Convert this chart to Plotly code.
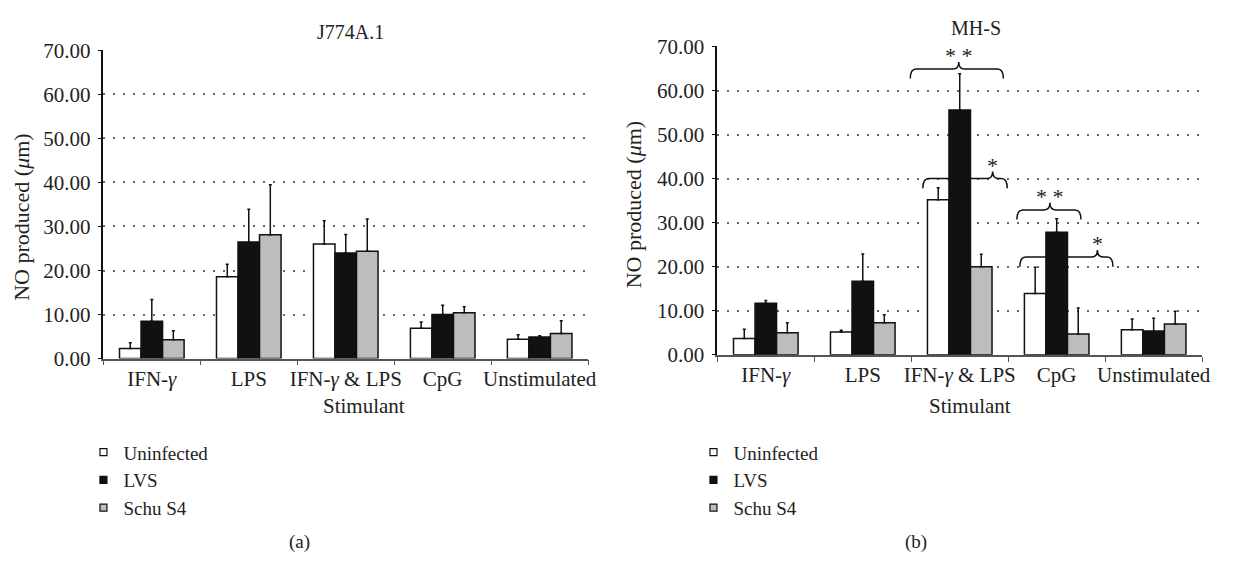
import plotly.graph_objects as go

W, H = 1233, 565

categories = ["IFN-γ", "LPS", "IFN-γ & LPS", "CpG", "Unstimulated"]
tick_labels = ["IFN-<i>γ</i>", "LPS", "IFN-<i>γ</i> &amp; LPS", "CpG", "Unstimulated"]
series_names = ["Uninfected", "LVS", "Schu S4"]

# Panel (a) J774A.1 : means and upper error-bar tops
j774_uninfected = [2.3, 18.6, 26.0, 6.9, 4.4]
j774_uninfected_top = [3.6, 21.4, 31.3, 8.3, 5.4]
j774_lvs = [8.5, 26.5, 24.0, 10.0, 4.9]
j774_lvs_top = [13.4, 33.9, 28.2, 12.1, 5.2]
j774_schu = [4.3, 28.1, 24.4, 10.4, 5.7]
j774_schu_top = [6.3, 39.5, 31.7, 11.8, 8.6]

# Panel (b) MH-S
mhs_uninfected = [3.7, 5.2, 35.2, 13.9, 5.7]
mhs_uninfected_top = [5.8, 5.6, 37.9, 19.9, 8.1]
mhs_lvs = [11.7, 16.7, 55.6, 27.8, 5.4]
mhs_lvs_top = [12.3, 22.9, 63.8, 30.9, 8.3]
mhs_schu = [5.0, 7.3, 20.0, 4.7, 7.0]
mhs_schu_top = [7.3, 9.1, 22.8, 10.6, 9.9]

# Significance braces on panel (b): (x start, x end, tip x, line y, label)
braces = [
    (1.49, 2.45, 1.99, 64.9, "* *"),
    (1.62, 2.49, 2.34, 40.0, "*"),
    (2.59, 3.25, 2.93, 32.9, "* *"),
    (2.62, 3.58, 3.42, 22.2, "*"),
]

fills = ["#ffffff", "#111111", "#bdbdbd"]
FONT = "Liberation Serif"
TXT = "#222222"

fig = go.Figure()

panels = [
    ("x", "y", "legend", [(j774_uninfected, j774_uninfected_top), (j774_lvs, j774_lvs_top), (j774_schu, j774_schu_top)]),
    ("x2", "y2", "legend2", [(mhs_uninfected, mhs_uninfected_top), (mhs_lvs, mhs_lvs_top), (mhs_schu, mhs_schu_top)]),
]

for xa, ya, leg, series in panels:
    for i, (vals, tops) in enumerate(series):
        fig.add_trace(go.Bar(
            x=categories, y=vals, xaxis=xa, yaxis=ya, name=series_names[i],
            marker=dict(color=fills[i], line=dict(color="#111111", width=1.5)),
            error_y=dict(type="data", symmetric=False,
                         array=[t - v for t, v in zip(tops, vals)],
                         arrayminus=[0] * len(vals),
                         color="#111111", thickness=1.5, width=1.5),
            showlegend=False, offsetgroup=str(i),
        ))
    for i in range(3):
        fig.add_trace(go.Scatter(
            x=[None], y=[None], xaxis=xa, yaxis=ya, mode="markers", name=series_names[i],
            marker=dict(symbol="square", size=7, color=fills[i], line=dict(color="#111111", width=1.2)),
            legend=leg, showlegend=True,
        ))

def px_x(p):
    return p / W

def px_y(p):
    return 1 - p / H

yax = dict(range=[0, 70], dtick=10, tickformat=".2f", showline=True, linecolor="#111111",
           linewidth=1.5, ticks="outside", ticklen=4, tickcolor="#111111",
           showgrid=True, gridcolor="#666666", gridwidth=1.5, griddash="1.5px,8.5px",
           zeroline=False, tickfont=dict(family=FONT, size=21, color=TXT), ticklabelstandoff=3)
xax = dict(type="category", categoryorder="array", categoryarray=categories,
           tickvals=categories, ticktext=tick_labels, range=[-0.5, 4.5], tickangle=0,
           showline=True, linecolor="#555555", linewidth=1.5, ticks="outside",
           tickson="boundaries", ticklen=5, tickcolor="#555555", showgrid=False,
           tickfont=dict(family=FONT, size=21, color=TXT))

fig.update_layout(
    xaxis=dict(xax, domain=[px_x(104), px_x(592)], anchor="y"),
    yaxis=dict(yax, domain=[px_y(362), px_y(40)], anchor="x"),
    xaxis2=dict(xax, domain=[px_x(722), px_x(1210)], anchor="y2"),
    yaxis2=dict(yax, domain=[px_y(358), px_y(36)], anchor="x2"),
)

for x0, x1, xt, yl, lab in braces:
    dy = 2.2
    dx = 0.06
    path = (f"M {x0},{yl - dy} Q {x0},{yl} {x0 + dx},{yl} L {xt - dx},{yl} "
            f"Q {xt},{yl} {xt},{yl + 1.6} Q {xt},{yl} {xt + dx},{yl} L {x1 - dx},{yl} "
            f"Q {x1},{yl} {x1},{yl - dy}")
    fig.add_shape(type="path", path=path, xref="x2", yref="y2",
                  line=dict(color="#111111", width=1.5), layer="above")
    fig.add_annotation(x=xt, y=yl + 3.0, xref="x2", yref="y2", text=lab, showarrow=False,
                       font=dict(family=FONT, size=22, color=TXT))

texts = [
    ("J774A.1", 353, 21, 0, 20),
    ("MH-S", 982, 17, 0, 20),
    ("Stimulant", 366, 411, 0, 21),
    ("Stimulant", 976, 412, 0, 21),
    ("NO produced (<i>μ</i>m)", 22, 214, -90, 22),
    ("NO produced (<i>μ</i>m)", 638, 201, -90, 22),
    ("(a)", 301, 553, 0, 19),
    ("(b)", 922, 553, 0, 19),
]
for t, x, y, ang, sz in texts:
    fig.add_annotation(x=px_x(x), y=px_y(y), xref="paper", yref="paper", text=t,
                       showarrow=False, textangle=ang, xanchor="center", yanchor="middle",
                       font=dict(family=FONT, size=sz, color=TXT))

leg_common = dict(font=dict(family=FONT, size=19, color=TXT), bgcolor="rgba(0,0,0,0)",
                  tracegroupgap=0, itemwidth=30, yanchor="top", xanchor="left",
                  orientation="v", itemclick=False, itemdoubleclick=False)
fig.update_layout(
    legend=dict(leg_common, x=px_x(84), y=px_y(440)),
    legend2=dict(leg_common, x=px_x(698), y=px_y(440)),
)

fig.update_layout(
    width=W, height=H, margin=dict(l=0, r=0, t=0, b=0),
    paper_bgcolor="white", plot_bgcolor="white",
    barmode="group", bargap=0.334, bargroupgap=0,
    showlegend=True,
)

fig.write_html("out.html", config={"displayModeBar": False},
               post_script="document.body.style.margin='0';document.body.style.overflow='hidden';")
